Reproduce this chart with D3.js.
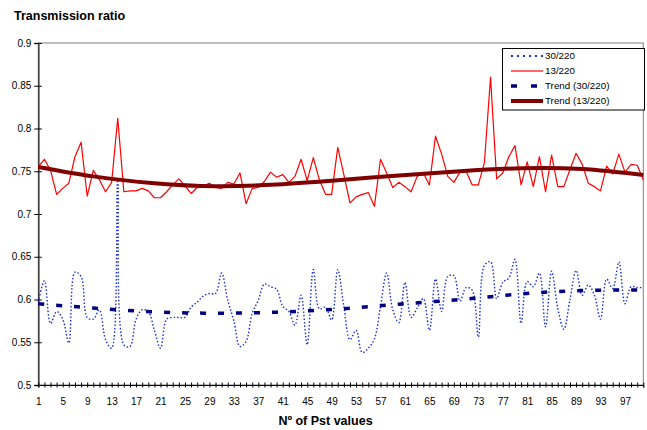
<!DOCTYPE html>
<html><head><meta charset="utf-8">
<script src="https://cdn.jsdelivr.net/npm/d3@7"></script>
<style>
body{margin:0;background:#fff}
svg{display:block;font-family:"Liberation Sans",Arial,sans-serif}
</style>
</head><body>
<svg id="chart" width="647" height="430"></svg>
<script>
// ---- data ----
const categories = d3.range(1, 101);
const xTickLabels = [1,5,9,13,17,21,25,29,33,37,41,45,49,53,57,61,65,69,73,77,81,85,89,93,97];
const yTicks = [0.5,0.55,0.6,0.65,0.7,0.75,0.8,0.85,0.9];
const seriesNames = ["30/220","13/220","Trend (30/220)","Trend (13/220)"];

const s30 = [0.597,0.622,0.572,0.586,0.577,0.549,0.632,0.627,0.579,0.577,
             0.588,0.553,0.543,0.740,0.547,0.545,0.577,0.588,0.586,0.564,
             0.543,0.577,0.579,0.579,0.579,0.591,0.597,0.604,0.607,0.607,
             0.631,0.599,0.575,0.545,0.551,0.584,0.599,0.618,0.615,0.612,
             0.592,0.586,0.570,0.605,0.547,0.635,0.589,0.591,0.576,0.635,
             0.592,0.553,0.564,0.538,0.543,0.554,0.592,0.631,0.588,0.573,
             0.620,0.579,0.590,0.601,0.564,0.624,0.586,0.627,0.628,0.598,
             0.614,0.611,0.556,0.640,0.644,0.601,0.620,0.625,0.647,0.572,
             0.621,0.615,0.631,0.568,0.633,0.590,0.565,0.600,0.634,0.605,
             0.617,0.605,0.577,0.624,0.613,0.644,0.595,0.615,0.614,0.614];

const s13 = [0.755,0.764,0.751,0.723,0.730,0.736,0.767,0.784,0.721,0.751,
             0.740,0.726,0.737,0.812,0.726,0.727,0.727,0.730,0.727,0.719,
             0.719,0.726,0.734,0.741,0.733,0.724,0.731,0.733,0.736,0.731,
             0.730,0.737,0.735,0.748,0.712,0.730,0.731,0.738,0.749,0.743,
             0.746,0.737,0.744,0.764,0.739,0.766,0.740,0.723,0.723,0.778,
             0.746,0.713,0.720,0.723,0.725,0.709,0.764,0.748,0.731,0.737,
             0.732,0.726,0.744,0.748,0.734,0.791,0.770,0.744,0.737,0.749,
             0.750,0.734,0.734,0.760,0.860,0.741,0.748,0.767,0.780,0.734,
             0.761,0.732,0.767,0.726,0.769,0.732,0.732,0.752,0.771,0.758,
             0.736,0.732,0.727,0.756,0.747,0.770,0.749,0.758,0.757,0.740];

// trend lines at a few categories
const trendCats = [1,10,20,30,40,50,60,70,80,90,100];
const trend30 = [0.595,0.590,0.5855,0.584,0.5852,0.5888,0.5945,0.600,0.6065,0.6105,0.611];
const trend13 = [0.755,0.744,0.736,0.7325,0.7345,0.7395,0.745,0.750,0.7535,0.7525,0.7456];

// ---- layout ----
const svg = d3.select("#chart");
const L = 38.3, R = 643.3, T = 43, B = 385;

const x = d3.scalePoint().domain(categories).range([L, R]).padding(0);
const y = d3.scaleLinear().domain([0.5, 0.9]).range([B, T]);

// plot area border
svg.append("rect").attr("x", L).attr("y", T).attr("width", R - L).attr("height", B - T)
  .attr("fill", "none").attr("stroke", "#808080").attr("stroke-width", 1);

// y axis
const gy = svg.append("g").attr("transform", `translate(${L},0)`)
  .call(d3.axisLeft(y).tickValues(yTicks).tickFormat(d => String(d)).tickSize(4).tickPadding(3));
gy.select(".domain").attr("stroke", "#404040").attr("stroke-width", 1.6);
gy.selectAll(".tick line").attr("x1", 3.5).attr("stroke", "#000");
gy.selectAll(".tick text").attr("font-size", 10).attr("font-family", "Liberation Sans, Arial, sans-serif").attr("fill", "#000");

// x axis
const gx = svg.append("g").attr("transform", `translate(0,${B})`)
  .call(d3.axisBottom(x).tickValues(categories)
    .tickFormat(d => xTickLabels.includes(d) ? String(d) : "")
    .tickSize(2.5).tickPadding(10.5));
gx.select(".domain").attr("stroke", "#000").attr("stroke-width", 1);
gx.selectAll(".tick line").attr("y1", -2.5).attr("stroke", "#000");
gx.selectAll(".tick text").attr("font-size", 10).attr("font-family", "Liberation Sans, Arial, sans-serif").attr("fill", "#000");

// series
const line30 = d3.line().x((d, i) => x(categories[i])).y(d => y(d)).curve(d3.curveCatmullRom.alpha(0.5));
const line13 = d3.line().x((d, i) => x(categories[i])).y(d => y(d));
const trendLine = d3.line().x((d, i) => x(trendCats[i])).y(d => y(d)).curve(d3.curveNatural);

svg.append("path").datum(s30).attr("d", line30)
  .attr("fill", "none").attr("stroke", "#1a2fd8").attr("stroke-width", 1.4)
  .attr("stroke-dasharray", "1.5,2");
svg.append("path").datum(s13).attr("d", line13)
  .attr("fill", "none").attr("stroke", "#ff0000").attr("stroke-width", 1.2)
  .attr("stroke-linejoin", "round");
svg.append("path").datum(trend30).attr("d", trendLine)
  .attr("fill", "none").attr("stroke", "#000080").attr("stroke-width", 3.5)
  .attr("stroke-dasharray", "6,12");
svg.append("path").datum(trend13).attr("d", trendLine)
  .attr("fill", "none").attr("stroke", "#800000").attr("stroke-width", 4);

// titles
svg.append("text").attr("x", 14).attr("y", 20).attr("font-size", 12.5).attr("font-weight", "bold")
  .text("Transmission ratio");
svg.append("text").attr("x", 325.5).attr("y", 425).attr("text-anchor", "middle")
  .attr("font-size", 12.5).attr("font-weight", "bold").text("Nº of Pst values");

// legend
const lg = svg.append("g");
lg.append("rect").attr("x", 502.5).attr("y", 48.5).attr("width", 142).attr("height", 61.5)
  .attr("fill", "#fff").attr("stroke", "#000").attr("stroke-width", 1);
const styles = [
  {stroke: "#1a2fd8", w: 2, dash: "2,4"},
  {stroke: "#ff0000", w: 1.2, dash: null},
  {stroke: "#000080", w: 3.5, dash: "6,14"},
  {stroke: "#800000", w: 4, dash: null}
];
const rowY = [56, 71, 86, 101];
seriesNames.forEach((name, i) => {
  const st = styles[i];
  const ln = lg.append("line").attr("x1", 511).attr("x2", 543).attr("y1", rowY[i]).attr("y2", rowY[i])
    .attr("stroke", st.stroke).attr("stroke-width", st.w);
  if (st.dash) ln.attr("stroke-dasharray", st.dash);
  lg.append("text").attr("x", 545).attr("y", rowY[i]).attr("dy", "0.35em")
    .attr("font-size", 9.8).text(name);
});
</script>
</body></html>
